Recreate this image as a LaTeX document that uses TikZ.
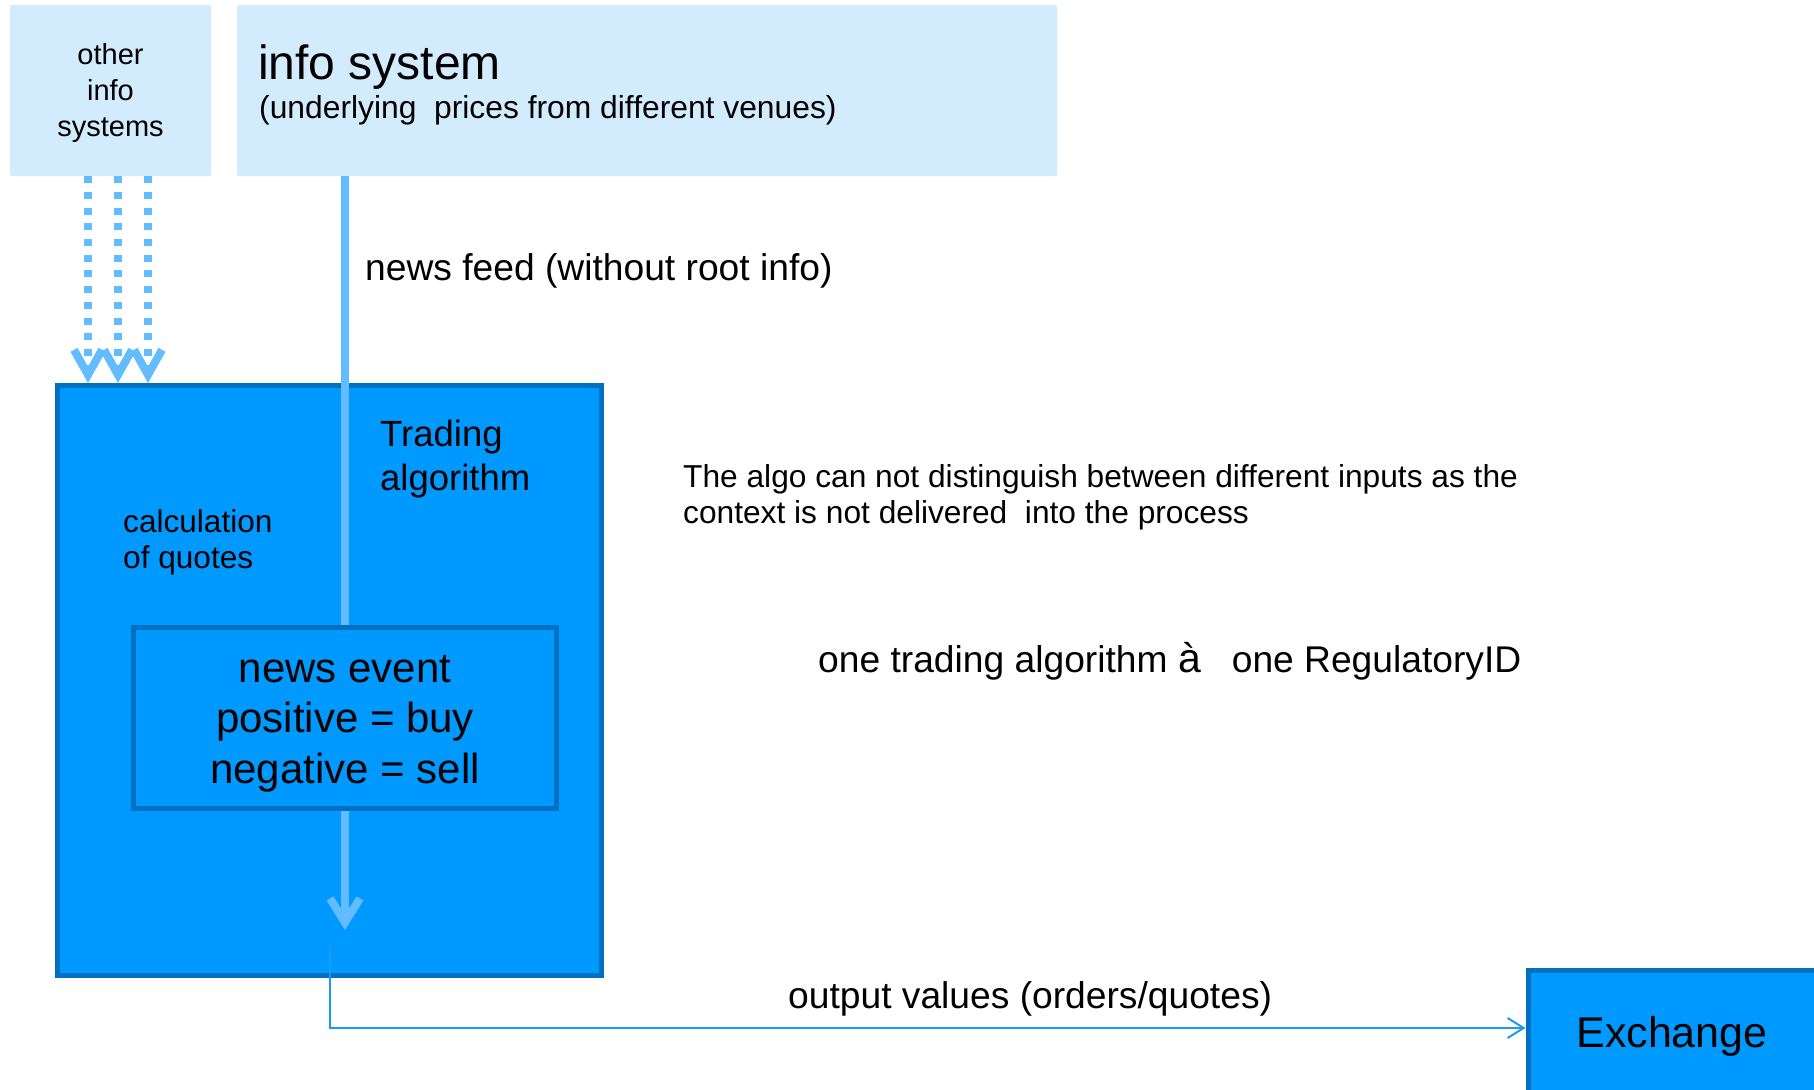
\documentclass[tikz,border=0pt]{standalone}
\usepackage{fontspec}
\setmainfont{Liberation Sans}
\usetikzlibrary{arrows.meta}
\definecolor{lightfill}{HTML}{D3ECFD}
\definecolor{mainfill}{HTML}{0099FF}
\definecolor{edgeblue}{HTML}{0070C0}
\definecolor{feedblue}{HTML}{62BCFF}
\definecolor{outblue}{HTML}{1A9AF0}
\newcommand\fsz[1]{\fontsize{#1}{#1}\selectfont}
\tikzset{
  lightbox/.style={fill=lightfill, draw=none, rounded corners=1.5pt, inner sep=0pt},
  bluebox/.style={fill=mainfill, draw=edgeblue, line width=5pt, inner sep=0pt},
  txt/.style={inner sep=0pt, text=black},
  feedline/.style={draw=feedblue, line width=8pt, -{Straight Barb[length=24pt,width=30pt,line join=miter]}},
  dotline/.style={draw=feedblue, line width=8pt, dash pattern=on 7pt off 8.7pt, -{Straight Barb[length=25pt,width=28pt,line join=miter]}},
  outline/.style={draw=outblue, line width=2pt, -{Straight Barb[length=16pt,width=20pt]}}
}
\begin{document}
\begin{tikzpicture}[x=1pt,y=-1pt]
\useasboundingbox (0,0) rectangle (1814,1089);
\fill[white] (0,0) rectangle (1814,1089);

% top boxes
\node[lightbox, minimum width=201pt, minimum height=171pt] (other) at (110.5,90.5) {};
\node[lightbox, minimum width=820pt, minimum height=171pt] (info) at (647,90.5) {};

% main box
\node[bluebox, minimum width=544pt, minimum height=590pt] (main) at (329.5,680.5) {};

% exchange
\node[bluebox, minimum width=288pt, minimum height=124pt, text depth=0pt, font=\fsz{43}] (exch) at (1672,1032) {Exchange};

% news feed line
\coordinate (feedend) at (345,930);
\draw[feedline] (info.south -| feedend) -- (feedend);

% inner box
\node[bluebox, minimum width=423pt, minimum height=181pt] (inner) at (345,718) {};

% dotted inputs
\foreach \xx in {88,118,148}
  \draw[dotline] (other.south -| \xx,0) -- (main.north -| \xx,0);

% output connector
\coordinate (outstart) at (330,945);
\coordinate (outcorner) at (330,1028);
\draw[outline] (outstart) -- (outcorner) -- (outcorner -| exch.west);

% texts
\node[txt, anchor=base, font=\fsz{29}] (oth1) at (110.5,65) {other};
\node[txt, anchor=base, font=\fsz{29}] (oth2) at (110.5,100.8) {info};
\node[txt, anchor=base, font=\fsz{29}] (oth3) at (110.5,136.5) {systems};

\node[txt, anchor=base west, font=\fsz{48}] (infot) at (258,80) {info system};
\node[txt, anchor=base west, font=\fsz{31.8}] (infos) at (259,119) {(underlying\ \ prices from different venues)};

\node[txt, anchor=base west, font=\fsz{37.2}] (feedlbl) at (365,280) {news feed (without root info)};

\node[txt, anchor=base west, font=\fsz{36.5}] (trad1) at (380,446) {Trading};
\node[txt, anchor=base west, font=\fsz{36.5}] (trad2) at (380,490) {algorithm};

\node[txt, anchor=base west, font=\fsz{31.6}] (calc1) at (123,532) {calculation};
\node[txt, anchor=base west, font=\fsz{31.6}] (calc2) at (123,568) {of quotes};

\node[txt, anchor=base, font=\fsz{42}] (ne1) at (345,682) {news event};
\node[txt, anchor=base, font=\fsz{42}] (ne2) at (345,732) {positive = buy};
\node[txt, anchor=base, font=\fsz{42}] (ne3) at (345,783) {negative = sell};

\node[txt, anchor=base west, font=\fsz{31.7}] (algo1) at (683,487) {The algo can not distinguish between different inputs as the};
\node[txt, anchor=base west, font=\fsz{31.7}] (algo2) at (683,523) {context is not delivered\ \ into the process};

\node[txt, anchor=base west, font=\fsz{37.2}] (onealgo) at (818,672) {one trading algorithm {\fontsize{41}{41}\selectfont à}\hspace{31pt}one RegulatoryID};

\node[txt, anchor=base west, font=\fsz{37.2}] (outlbl) at (788,1008) {output values (orders/quotes)};
\end{tikzpicture}
\end{document}
